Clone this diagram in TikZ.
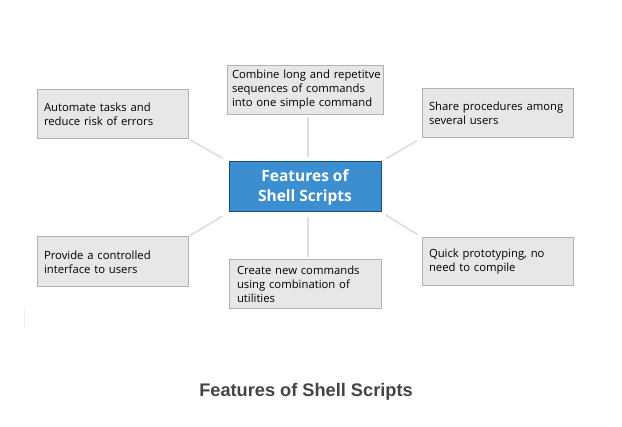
\documentclass[tikz,border=0pt]{standalone}
\usepackage{fontspec}
\setmainfont{Open Sans}
\newfontfamily\capfont{Liberation Sans}
\definecolor{boxfill}{HTML}{E6E7E9}
\definecolor{boxline}{HTML}{B2B2B2}
\definecolor{hubfill}{HTML}{3B8FD1}
\definecolor{hubline}{HTML}{1F4C75}
\definecolor{linkcol}{HTML}{DEDEDE}
\definecolor{capcol}{HTML}{444444}
\begin{document}
\begin{tikzpicture}[x=1pt,y=-1pt,
  featbox/.style={draw=boxline, line width=1pt, fill=boxfill, inner xsep=7pt, inner ysep=0pt,
    minimum width=151pt, minimum height=49pt, text width=137pt, align=left,
    font=\fontsize{11.3}{14}\selectfont, text=black},
  hubbox/.style={draw=hubline, line width=1pt, fill=hubfill, minimum width=152pt, minimum height=50pt,
    align=center, text=white, font=\fontsize{15.5}{20}\selectfont\bfseries},
  link/.style={draw=linkcol, line width=1.6pt}]
\useasboundingbox (0,0) rectangle (622,427);
\fill[white] (0,0) rectangle (622,427);

\node[hubbox] (hub) at (305,187) {Features of\\Shell Scripts};

\node[featbox] (auto) at (112.5,114) {Automate tasks and\\reduce risk of errors};
\node[featbox, minimum width=156pt, text width=146pt, inner xsep=5pt] (comb) at (305,90) {Combine~long~and~repetitve\\sequences~of~commands\\into~one~simple~command};
\node[featbox] (share) at (497.5,113) {Share procedures among\\several users};
\node[featbox, minimum height=50pt] (prov) at (112.5,262) {Provide a controlled\\interface to users};
\node[featbox, minimum width=152pt, text width=136pt, inner xsep=8pt] (crea) at (305,284) {Create new commands\\using combination of\\utilities};
\node[featbox, minimum height=48pt] (quick) at (497.5,261.5) {Quick prototyping, no\\need to compile};

\coordinate (ctop) at (308,117);
\coordinate (chub) at (308,157);
\coordinate (cbot) at (308,257);
\coordinate (chubb) at (308,217);

\draw[link, shorten <=1pt, shorten >=7pt] (auto.south east) -- (hub.north west);
\draw[link, shorten <=5pt, shorten >=5pt] (share.south west) -- (hub.north east);
\draw[link, shorten <=1pt, shorten >=7pt] (prov.north east) -- (hub.south west);
\draw[link, shorten <=4pt, shorten >=5pt] (quick.north west) -- (hub.south east);
\draw[link] (ctop) -- (chub);
\draw[link] (chubb) -- (cbot);

\coordinate (fa) at (24,306);
\coordinate (fb) at (24,328);
\draw[draw=black!6, line width=1pt] (fa) -- (fb);

\node[font=\capfont\fontsize{18.2}{20}\selectfont\bfseries, text=capcol, anchor=base] (cap) at (306,397) {Features of Shell Scripts};
\end{tikzpicture}
\end{document}
